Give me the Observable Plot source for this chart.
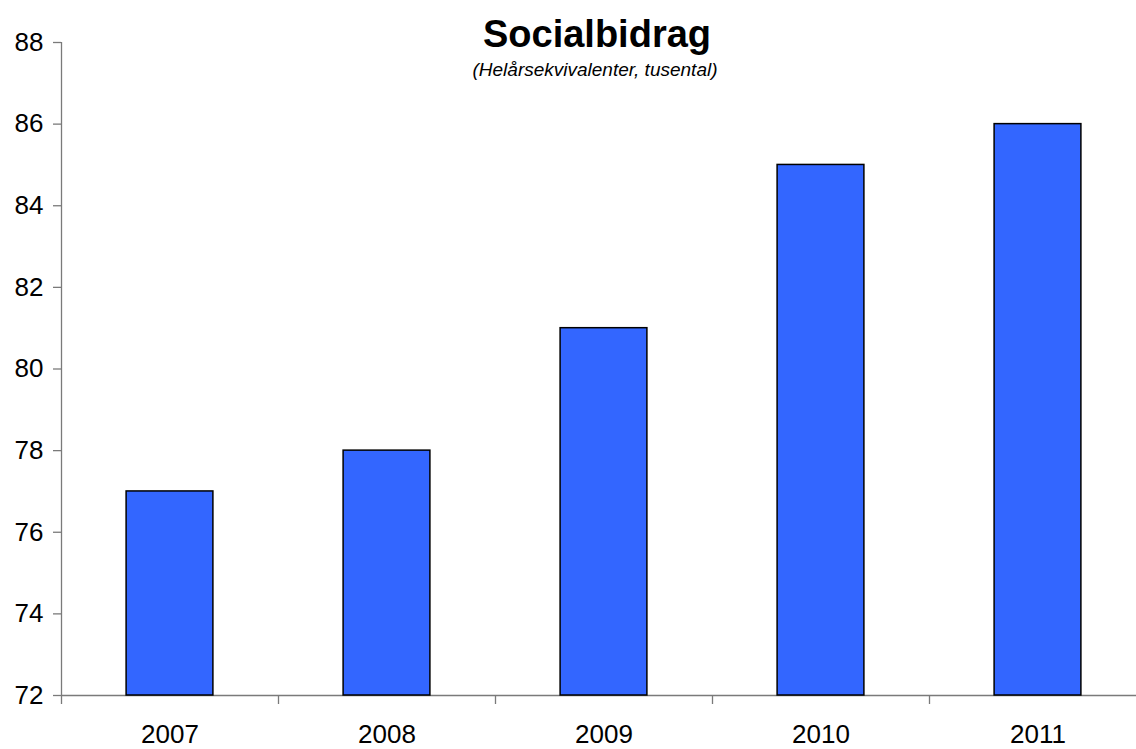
<!DOCTYPE html>
<html><head><meta charset="utf-8">
<script src="https://cdn.jsdelivr.net/npm/d3@7"></script>
<script src="https://cdn.jsdelivr.net/npm/@observablehq/plot@0.6"></script>
<style>body{margin:0;background:#fff;font-family:"Liberation Sans",Arial,sans-serif}</style>
</head><body><div id="chart"></div>
<script>
const years = ["2007","2008","2009","2010","2011"];
const values = [77, 78, 81, 85, 86];
const yTicks = [72,74,76,78,80,82,84,86,88];
const title = "Socialbidrag";
const subtitle = "(Helårsekvivalenter, tusental)";
const yMin = 72, yMax = 88;

const data = years.map((y,i)=>({year:y, value:values[i]}));
const xRange = [61, 1146];
const xs = Plot.scale({x:{type:"band", domain:years, range:xRange, padding:0}});
const bw = xs.bandwidth;
const axisGray = "#7a7a7a";

const plot = Plot.plot({
  width:1136, height:749,
  marginLeft:61, marginRight:0, marginTop:42, marginBottom:54,
  style:{fontFamily:"'Liberation Sans', Arial, sans-serif", background:"#fff", overflow:"visible"},
  x:{type:"band", domain:years, range:xRange, padding:0},
  y:{domain:[yMin,yMax]},
  marks:[
    Plot.ruleY([yMin], {stroke:axisGray, strokeWidth:1.3}),
    Plot.ruleX(years, {x:d=>d, dx:-bw/2, y1:yMin, y2:yMin, insetBottom:-9, stroke:axisGray, strokeWidth:1.3}),
    Plot.ruleX(years.slice(0,1), {x:d=>d, dx:-bw/2, y1:yMin, y2:yMax, stroke:axisGray, strokeWidth:1.3}),
    Plot.barY(data, {x:"year", y1:()=>yMin, y2:"value", fill:"#3366FF", stroke:"#000", strokeWidth:1.5, insetLeft:bw*0.3, insetRight:bw*0.3}),
    Plot.axisY({ticks:yTicks, tickSize:8, tickPadding:10, stroke:axisGray, strokeWidth:1.3, fill:"#000", fontSize:26, label:null}),
    Plot.axisX({tickSize:0, tickPadding:29, fill:"#000", fontSize:26, label:null}),
    Plot.text([title], {frameAnchor:"top", lineAnchor:"bottom", dx:-2, dy:4, fontSize:38, fontWeight:"bold", fill:"#000"}),
    Plot.text([subtitle], {frameAnchor:"top", lineAnchor:"bottom", dx:-4, dy:33, fontSize:19, fontStyle:"italic", fill:"#000"})
  ]
});
document.getElementById("chart").appendChild(plot);
</script></body></html>
